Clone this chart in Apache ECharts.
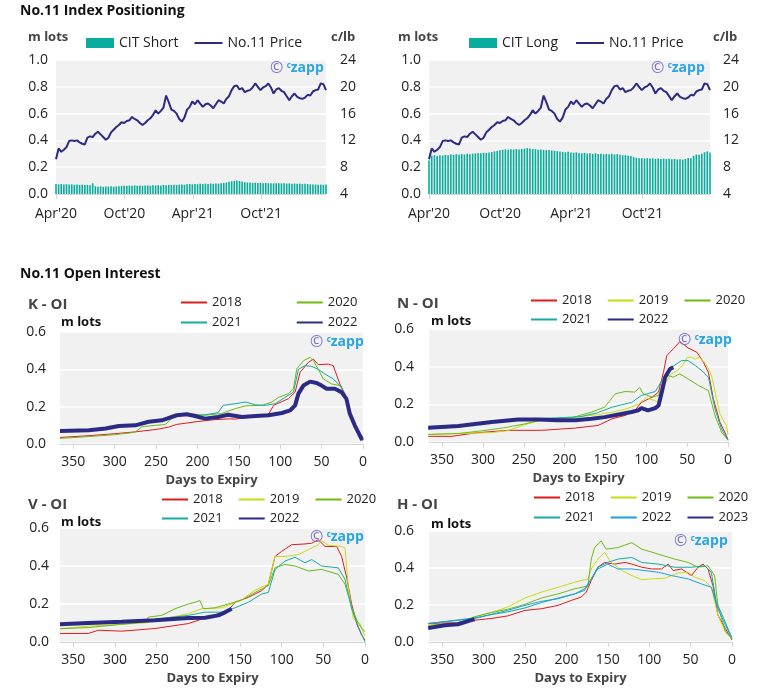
<!DOCTYPE html>
<html><head><meta charset="utf-8">
<script src="https://cdn.jsdelivr.net/npm/echarts@6/dist/echarts.min.js"></script>
<style>html,body{margin:0;padding:0;background:#fff}#c{width:761px;height:690px}</style>
</head><body><div id="c"></div>
<script>
const FONT = "'Open Sans', 'Noto Sans', sans-serif";
// ---- Top panels: weekly data from 1 Apr 2020 ----
const dateTickLabels = ["Apr'20", "Oct'20", "Apr'21", "Oct'21"];
const citShort = [0.075,0.072,0.074,0.071,0.073,0.070,0.072,0.069,0.071,0.068,0.070,0.067,0.068,0.066,
  0.080,
  0.058,0.055,0.057,0.054,0.056,0.055,0.057,0.054,0.056,0.058,
  0.060,0.062,0.061,0.063,0.062,0.064,0.062,0.063,0.061,0.063,0.064,0.062,0.065,0.063,0.066,0.064,0.067,0.065,0.068,0.066,0.069,0.067,0.070,
  0.071,0.069,0.072,0.074,0.072,0.075,0.073,0.076,0.074,0.077,0.075,0.078,0.076,0.079,0.077,0.080,0.082,0.085,
  0.092,0.095,0.098,0.101,0.097,0.094,
  0.088,0.086,0.085,0.083,0.084,0.082,0.083,0.081,0.082,0.080,0.081,0.079,0.080,0.081,0.079,0.080,0.078,0.079,0.077,0.078,0.076,0.077,0.075,0.076,0.074,
  0.072,0.070,0.071,0.069,0.070,0.068,0.070];
const citLong = [0.250,0.285,0.290,0.283,0.290,0.287,
  0.292,0.289,0.295,0.292,0.297,0.294,0.298,0.295,0.300,0.297,0.301,
  0.303,0.306,0.304,0.308,0.306,0.309,
  0.313,0.318,0.322,0.326,
  0.330,0.333,0.331,0.334,0.332,0.335,0.333,0.336,
  0.338,0.342,0.340,
  0.336,0.334,0.331,0.333,0.329,0.327,0.329,0.325,0.323,
  0.320,0.318,0.314,0.312,0.315,0.310,0.308,0.311,0.306,0.304,0.307,0.302,0.305,
  0.300,0.303,0.298,0.301,0.296,0.299,0.297,0.300,0.295,0.298,
  0.292,0.289,0.290,0.286,0.283,
  0.275,0.270,0.266,0.268,0.265,0.267,0.264,0.266,0.263,0.265,0.262,0.264,0.261,0.263,0.260,0.262,0.258,0.260,0.257,0.262,0.268,
  0.266,0.285,0.295,0.293,0.300,0.312,0.318,0.310];
const price = [9.2,10.8,10.3,10.6,11.0,11.9,12.0,11.9,12.0,11.7,11.5,11.4,12.4,12.6,12.5,13.0,13.3,12.9,12.5,12.1,
  12.4,13.2,13.6,14.0,14.3,14.7,14.6,14.9,15.0,15.5,15.2,15.0,14.6,14.3,14.6,15.0,15.3,15.8,16.5,16.0,
  16.4,16.9,18.7,17.7,16.6,16.4,16.0,15.2,14.8,15.4,16.6,17.0,17.8,17.4,18.0,17.5,17.0,17.4,17.5,17.2,
  16.8,17.4,18.0,17.8,17.5,18.2,18.6,19.5,20.1,20.2,19.6,19.8,19.2,19.4,19.5,19.9,20.5,20.0,19.5,19.9,
  20.1,20.5,19.9,19.0,19.6,19.8,19.4,19.2,18.6,18.0,18.6,19.0,18.5,18.3,18.2,18.4,18.8,18.7,19.3,19.5,
  19.6,20.5,20.4,19.5];
// ---- Open interest: [days to expiry, m lots] ----
const K2018 = [[366,0.035],[330,0.045],[300,0.055],[275,0.065],[250,0.078],[235,0.09],[225,0.105],[200,0.12],[180,0.13],[160,0.135],[154,0.133],[140,0.145],[125,0.155],[114,0.16],[108,0.207],[90,0.243],[82,0.278],[76,0.384],[66,0.437],[60,0.455],[54,0.425],[42,0.428],[36,0.42],[28,0.322],[22,0.27],[16,0.172],[10,0.10],[4,0.03],[0,0.02]];
const K2020 = [[366,0.03],[330,0.04],[300,0.05],[280,0.06],[275,0.065],[267,0.092],[251,0.10],[239,0.104],[233,0.127],[227,0.154],[211,0.163],[191,0.154],[171,0.163],[154,0.19],[142,0.204],[122,0.207],[110,0.225],[102,0.25],[90,0.27],[84,0.296],[80,0.402],[72,0.446],[64,0.464],[60,0.446],[54,0.40],[48,0.349],[38,0.322],[28,0.313],[22,0.27],[16,0.154],[8,0.074],[2,0.048],[0,0.04]];
const K2021 = [[366,0.065],[330,0.072],[300,0.09],[275,0.1],[260,0.115],[251,0.124],[235,0.136],[219,0.157],[203,0.15],[187,0.159],[175,0.168],[169,0.207],[154,0.216],[142,0.225],[130,0.21],[118,0.207],[106,0.216],[94,0.25],[84,0.278],[78,0.40],[70,0.42],[62,0.416],[54,0.40],[46,0.375],[36,0.349],[26,0.304],[18,0.207],[10,0.10],[2,0.03],[0,0.02]];
const K2022 = [[366,0.069],[331,0.074],[311,0.083],[295,0.096],[275,0.10],[259,0.119],[243,0.127],[225,0.154],[213,0.159],[203,0.15],[191,0.136],[175,0.145],[163,0.157],[146,0.145],[130,0.15],[114,0.154],[98,0.166],[88,0.18],[82,0.207],[78,0.27],[72,0.313],[64,0.334],[56,0.327],[50,0.313],[44,0.296],[34,0.296],[26,0.278],[20,0.242],[16,0.163],[10,0.10],[6,0.065],[1,0.021]];
const N2018 = [[367,0.03],[338,0.03],[310,0.048],[269,0.062],[228,0.062],[187,0.074],[159,0.088],[142,0.123],[126,0.141],[114,0.168],[106,0.21],[93,0.238],[85,0.265],[79,0.37],[75,0.458],[67,0.494],[59,0.533],[49,0.50],[38,0.476],[30,0.423],[24,0.37],[18,0.23],[10,0.106],[2,0.035],[0,0.01]];
const N2019 = [[367,0.04],[330,0.045],[289,0.05],[270,0.06],[250,0.09],[235,0.11],[220,0.12],[200,0.125],[180,0.135],[160,0.145],[140,0.16],[125,0.175],[110,0.2],[100,0.235],[90,0.22],[85,0.21],[78,0.30],[70,0.36],[62,0.38],[55,0.41],[50,0.45],[45,0.45],[40,0.44],[35,0.45],[30,0.43],[25,0.40],[20,0.35],[15,0.25],[10,0.15],[5,0.11],[2,0.09],[0,0.04]];
const N2020 = [[367,0.04],[330,0.045],[300,0.06],[275,0.075],[250,0.095],[230,0.115],[210,0.125],[190,0.13],[167,0.159],[151,0.185],[138,0.256],[126,0.268],[114,0.265],[108,0.29],[104,0.256],[93,0.238],[85,0.247],[79,0.326],[73,0.353],[67,0.344],[59,0.362],[49,0.335],[36,0.30],[24,0.273],[16,0.141],[8,0.053],[0,0.01]];
const N2021 = [[367,0.07],[330,0.08],[300,0.1],[260,0.12],[230,0.125],[200,0.13],[180,0.135],[160,0.155],[142,0.185],[118,0.21],[106,0.247],[89,0.268],[81,0.326],[69,0.397],[57,0.432],[49,0.432],[40,0.406],[32,0.379],[24,0.344],[16,0.176],[8,0.07],[0,0.01]];
const N2022 = [[367,0.076],[330,0.085],[289,0.106],[257,0.12],[232,0.12],[208,0.115],[187,0.115],[167,0.123],[151,0.132],[134,0.146],[118,0.159],[110,0.168],[106,0.18],[98,0.168],[89,0.18],[85,0.194],[81,0.265],[77,0.344],[71,0.388],[67,0.397]];
const V2018 = [[366,0.045],[332,0.045],[320,0.062],[292,0.057],[252,0.071],[212,0.097],[192,0.126],[180,0.144],[164,0.166],[156,0.209],[140,0.235],[124,0.27],[116,0.304],[108,0.45],[100,0.477],[88,0.512],[72,0.516],[64,0.52],[56,0.538],[48,0.503],[34,0.503],[28,0.45],[22,0.339],[16,0.20],[10,0.097],[4,0.036],[0,0.01]];
const V2019 = [[366,0.07],[332,0.083],[292,0.093],[264,0.10],[252,0.114],[212,0.149],[196,0.175],[172,0.18],[148,0.221],[132,0.273],[116,0.304],[108,0.45],[96,0.45],[80,0.46],[68,0.486],[56,0.512],[52,0.533],[44,0.509],[28,0.503],[24,0.495],[20,0.287],[14,0.123],[6,0.097],[0,0.03]];
const V2020 = [[366,0.07],[332,0.076],[292,0.093],[264,0.106],[260,0.131],[244,0.14],[228,0.175],[212,0.20],[204,0.209],[198,0.218],[194,0.175],[180,0.18],[164,0.20],[148,0.221],[132,0.261],[116,0.296],[108,0.391],[96,0.408],[84,0.40],[68,0.374],[52,0.382],[32,0.356],[24,0.304],[16,0.183],[8,0.097],[2,0.062],[0,0.055]];
const V2021 = [[366,0.09],[300,0.10],[252,0.12],[212,0.14],[192,0.157],[172,0.157],[156,0.18],[140,0.209],[124,0.253],[116,0.261],[108,0.382],[96,0.426],[84,0.446],[72,0.417],[64,0.434],[52,0.40],[32,0.39],[24,0.33],[16,0.175],[8,0.08],[0,0.0]];
const V2022 = [[366,0.093],[332,0.10],[292,0.106],[252,0.114],[212,0.126],[192,0.128],[176,0.14],[168,0.156],[160,0.175]];
const H2018 = [[367,0.1],[331,0.105],[311,0.118],[291,0.127],[271,0.141],[250,0.171],[230,0.18],[210,0.198],[194,0.225],[182,0.243],[176,0.27],[170,0.332],[162,0.404],[154,0.43],[142,0.421],[129,0.43],[121,0.421],[109,0.404],[97,0.395],[85,0.395],[77,0.421],[71,0.386],[61,0.395],[49,0.359],[41,0.404],[35,0.421],[29,0.395],[23,0.305],[17,0.145],[8,0.073],[0,0.01]];
const H2019 = [[367,0.09],[331,0.105],[311,0.136],[291,0.159],[271,0.189],[250,0.238],[230,0.27],[210,0.296],[190,0.323],[178,0.337],[174,0.34],[170,0.395],[162,0.448],[154,0.484],[146,0.43],[133,0.386],[121,0.359],[109,0.337],[97,0.341],[81,0.345],[65,0.373],[53,0.377],[45,0.35],[33,0.332],[25,0.296],[17,0.145],[8,0.055],[0,0.015]];
const H2020 = [[367,0.09],[331,0.1],[311,0.136],[291,0.159],[271,0.177],[250,0.204],[230,0.238],[210,0.26],[190,0.288],[174,0.302],[170,0.448],[166,0.51],[158,0.546],[152,0.502],[138,0.51],[121,0.537],[109,0.502],[89,0.475],[69,0.448],[53,0.43],[41,0.404],[29,0.412],[21,0.359],[17,0.198],[8,0.055],[0,0.02]];
const H2021 = [[367,0.1],[311,0.13],[291,0.148],[271,0.163],[250,0.184],[230,0.213],[210,0.238],[190,0.26],[178,0.279],[170,0.341],[162,0.404],[150,0.43],[138,0.448],[121,0.457],[109,0.43],[89,0.421],[69,0.404],[49,0.404],[33,0.412],[25,0.377],[19,0.216],[10,0.127],[0,0.02]];
const H2022 = [[367,0.1],[311,0.127],[271,0.171],[250,0.198],[230,0.22],[210,0.234],[190,0.26],[178,0.288],[170,0.341],[162,0.395],[150,0.421],[138,0.395],[121,0.395],[105,0.386],[89,0.377],[73,0.359],[53,0.341],[37,0.314],[25,0.296],[17,0.18],[8,0.091],[0,0.02]];
const H2023 = [[367,0.075],[347,0.091],[331,0.096],[315,0.118],[311,0.123]];

const COL = {y2018:'#e01b1b', y2019:'#c9dc12', y2020:'#6cbb14', y2021:'#14aca4', y2022n:'#2b2b86', y2022b:'#1d9fe0', y2023:'#2b2b86', bar:'#09ad9d', price:'#2c2a82'};

const monthOfWeek = i => i * 7 / 30.4375;
const xMaxTop = monthOfWeek(price.length - 1);
const weekly = arr => arr.map((v, i) => [monthOfWeek(i), v]);

const axisLineStyle = {lineStyle: {color: '#d4d4d4', width: 1}};
const gridBase = {show: true, backgroundColor: '#f1f1f1', borderWidth: 0, containLabel: false};
const grids = [
  Object.assign({left: 56, top: 60, width: 270, height: 134}, gridBase),
  Object.assign({left: 429, top: 60, width: 281, height: 134}, gridBase),
  Object.assign({left: 60, top: 332, width: 303, height: 112}, gridBase),
  Object.assign({left: 429, top: 329, width: 299, height: 113}, gridBase),
  Object.assign({left: 60, top: 528, width: 305, height: 114}, gridBase),
  Object.assign({left: 429, top: 531, width: 303, height: 111}, gridBase)
];
const lbl = {color: '#222', fontSize: 14, fontFamily: FONT};
function topX(gi) {
  return {type: 'value', gridIndex: gi, min: 0, max: xMaxTop, interval: 6,
    axisLine: axisLineStyle, axisTick: {show: true, length: 5, lineStyle: {color: '#d4d4d4'}},
    splitLine: {show: false},
    axisLabel: Object.assign({margin: 13, showMaxLabel: false, formatter: v => dateTickLabels[Math.round(v / 6)] || ''}, lbl)};
}
function botX(gi) {
  return {type: 'value', gridIndex: gi, min: 0, max: 366, interval: 50, inverse: true,
    axisLine: axisLineStyle, axisTick: {show: true, length: 5, lineStyle: {color: '#d4d4d4'}},
    splitLine: {show: false},
    name: 'Days to Expiry', nameLocation: 'middle', nameGap: 30,
    nameTextStyle: {fontSize: 13, fontWeight: 'bold', color: '#444', fontFamily: FONT},
    axisLabel: Object.assign({margin: 11, showMaxLabel: false}, lbl)};
}
function leftY(gi, max, interval, margin) {
  return {type: 'value', gridIndex: gi, min: 0, max: max, interval: interval, position: 'left',
    axisLine: {show: false}, axisTick: {show: false},
    splitLine: {show: true, lineStyle: {color: '#ffffff', width: 1.5}},
    axisLabel: Object.assign({margin: margin, formatter: v => v.toFixed(1)}, lbl)};
}
function rightY(gi, margin) {
  return {type: 'value', gridIndex: gi, min: 4, max: 24, interval: 4, position: 'right',
    axisLine: {show: false}, axisTick: {show: false}, splitLine: {show: false},
    axisLabel: Object.assign({margin: margin}, lbl)};
}
const xAxis = [topX(0), topX(1), botX(2), botX(3), botX(4), botX(5)];
const yAxis = [leftY(0, 1, 0.2, 8), rightY(0, 14), leftY(1, 1, 0.2, 8), rightY(1, 13),
  leftY(2, 0.6, 0.2, 14), leftY(3, 0.6, 0.2, 15), leftY(4, 0.6, 0.2, 11), leftY(5, 0.6, 0.2, 15)];

function oiLine(name, data, xi, yi, color, width) {
  return {type: 'line', name: name, xAxisIndex: xi, yAxisIndex: yi, data: data,
    symbol: 'none', showSymbol: false, animation: false,
    lineStyle: {color: color, width: width || 1}, itemStyle: {color: color}};
}
const series = [
  {type: 'bar', name: 'CIT Short', xAxisIndex: 0, yAxisIndex: 0, data: weekly(citShort), barWidth: 1.6,
    itemStyle: {color: COL.bar}, animation: false},
  oiLine('No.11 Price', weekly(price), 0, 1, COL.price, 2),
  {type: 'bar', name: 'CIT Long', xAxisIndex: 1, yAxisIndex: 2, data: weekly(citLong), barWidth: 1.6,
    itemStyle: {color: COL.bar}, animation: false},
  oiLine('No.11 Price', weekly(price), 1, 3, COL.price, 2),
  oiLine('K:2018', K2018, 2, 4, COL.y2018), oiLine('K:2020', K2020, 2, 4, COL.y2020),
  oiLine('K:2021', K2021, 2, 4, COL.y2021), oiLine('K:2022', K2022, 2, 4, COL.y2022n, 4),
  oiLine('N:2018', N2018, 3, 5, COL.y2018), oiLine('N:2019', N2019, 3, 5, COL.y2019),
  oiLine('N:2020', N2020, 3, 5, COL.y2020), oiLine('N:2021', N2021, 3, 5, COL.y2021),
  oiLine('N:2022', N2022, 3, 5, COL.y2022n, 4),
  oiLine('V:2018', V2018, 4, 6, COL.y2018), oiLine('V:2019', V2019, 4, 6, COL.y2019),
  oiLine('V:2020', V2020, 4, 6, COL.y2020), oiLine('V:2021', V2021, 4, 6, COL.y2021),
  oiLine('V:2022', V2022, 4, 6, COL.y2022n, 4),
  oiLine('H:2018', H2018, 5, 7, COL.y2018), oiLine('H:2019', H2019, 5, 7, COL.y2019),
  oiLine('H:2020', H2020, 5, 7, COL.y2020), oiLine('H:2021', H2021, 5, 7, COL.y2021),
  oiLine('H:2022', H2022, 5, 7, COL.y2022b), oiLine('H:2023', H2023, 5, 7, COL.y2023, 4)
];
const noSym = {opacity: 0, borderWidth: 0};
function leg(names, left, top, gap, extra) {
  return Object.assign({data: names.map(n => ({name: n, itemStyle: noSym})), left: left, top: top, orient: 'horizontal', itemGap: gap,
    itemWidth: 26, itemHeight: 14, padding: 0, selectedMode: false,
    formatter: n => n.indexOf(':') >= 0 ? n.split(':')[1] : n,
    textStyle: {fontSize: 13, color: '#222', fontFamily: FONT}}, extra || {});
}
const topLegExtra = {itemWidth: 28, itemHeight: 10, textStyle: {fontSize: 14, color: '#222', fontFamily: FONT}};
const legend = [
  Object.assign(leg([], 86, 36, 15, topLegExtra), {data: [{name: 'CIT Short', icon: 'rect'}, {name: 'No.11 Price', itemStyle: noSym}]}),
  Object.assign(leg([], 469, 36, 17, topLegExtra), {data: [{name: 'CIT Long', icon: 'rect'}, {name: 'No.11 Price', itemStyle: noSym}]}),
  leg(['K:2018', 'K:2020'], 180, 296, 54), leg(['K:2021', 'K:2022'], 180, 316, 54),
  leg(['N:2018', 'N:2019', 'N:2020'], 530, 294, 15), leg(['N:2021', 'N:2022'], 530, 313, 15),
  leg(['V:2018', 'V:2019', 'V:2020'], 161, 493, 15), leg(['V:2021', 'V:2022'], 161, 512, 15),
  leg(['H:2018', 'H:2019', 'H:2020'], 533, 491, 15), leg(['H:2021', 'H:2022', 'H:2023'], 533, 511, 15)
];
function txt(text, x, y, size, color, weight) {
  return {type: 'text', x: x, y: y, z: 100, style: {text: text, fontSize: size, fontWeight: weight || 'normal',
    fontFamily: FONT, fill: color, verticalAlign: 'middle'}};
}
function mark(x, y) {
  return {type: 'text', x: x, y: y, z: 100, style: {text: '{a|©} {b|c}{c|zapp}', verticalAlign: 'middle',
    rich: {a: {fill: '#7670c2', fontSize: 16, fontFamily: FONT},
      b: {fill: '#2aa6e2', fontSize: 8, fontWeight: 'bold', fontFamily: FONT, padding: [0, 0, 5, 0]},
      c: {fill: '#2aa6e2', fontSize: 14, fontWeight: 'bold', fontFamily: FONT}}}};
}
const graphic = [
  txt('No.11 Index Positioning', 20, 11, 14, '#111', 'bold'),
  txt('m lots', 28, 37, 13, '#444', 'bold'), txt('c/lb', 331, 37, 13, '#444', 'bold'),
  txt('m lots', 398, 37, 13, '#444', 'bold'), txt('c/lb', 713, 37, 13, '#444', 'bold'),
  txt('No.11 Open Interest', 20, 274, 14, '#111', 'bold'),
  txt('K - OI', 28, 305, 15, '#444', 'bold'), txt('m lots', 61, 322, 13, '#111', 'bold'),
  txt('N - OI', 397, 304, 15, '#444', 'bold'), txt('m lots', 431, 321, 13, '#111', 'bold'),
  txt('V - OI', 28, 505, 15, '#444', 'bold'), txt('m lots', 61, 522, 13, '#111', 'bold'),
  txt('H - OI', 397, 505, 15, '#444', 'bold'), txt('m lots', 431, 524, 13, '#111', 'bold'),
  mark(270, 68), mark(651, 68), mark(310, 342), mark(678, 340), mark(310, 537), mark(674, 541)
];
const chart = echarts.init(document.getElementById('c'), null, {renderer: 'canvas'});
chart.setOption({animation: false, backgroundColor: '#fff', textStyle: {fontFamily: FONT},
  grid: grids, xAxis: xAxis, yAxis: yAxis, series: series, legend: legend, graphic: graphic});
</script></body></html>
